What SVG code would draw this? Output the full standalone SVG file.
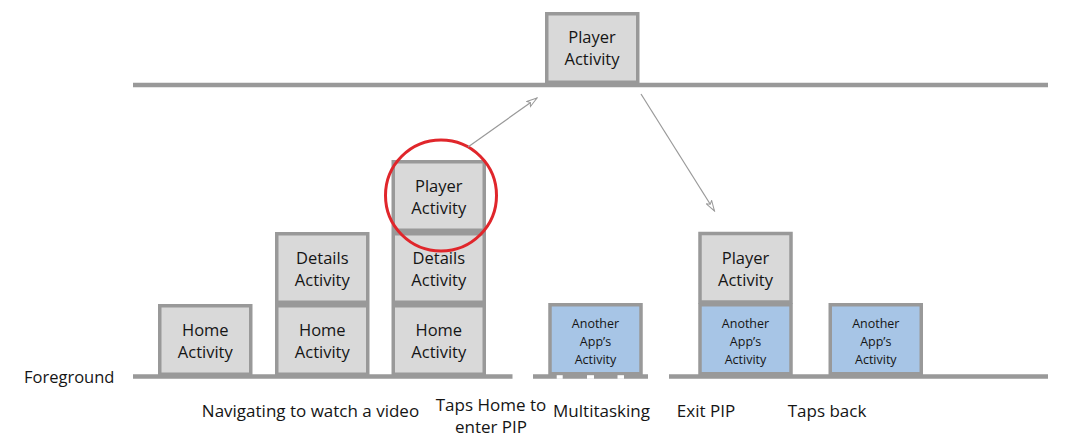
<svg xmlns="http://www.w3.org/2000/svg" width="1082" height="442" viewBox="0 0 1082 442">
<defs>
<style>
.box{fill:#d9d9d9;stroke:#999999;stroke-width:3.5}
.blue{fill:#a7c5e6;stroke:#999999;stroke-width:3.5}
.t{font-family:"Comic Sans MS","Chalkboard","Open Sans",sans-serif;font-size:16.5px;fill:#151515;text-anchor:middle}
.b{font-family:"Comic Sans MS","Chalkboard","Open Sans",sans-serif;font-size:17px;fill:#151515;text-anchor:middle}
.s{font-family:"Comic Sans MS","Chalkboard","Open Sans",sans-serif;font-size:12.5px;fill:#151515;text-anchor:middle}
.lab{font-family:"Comic Sans MS","Chalkboard","Open Sans",sans-serif;font-size:16.5px;fill:#151515}
.floor{stroke:#999999;stroke-width:4.5;fill:none}
.arr{stroke:#999999;stroke-width:1.2;fill:none;marker-end:url(#ah)}
</style>
<marker id="ah" viewBox="0 0 12 8" refX="11" refY="4" markerWidth="12" markerHeight="8" markerUnits="userSpaceOnUse" orient="auto">
<path d="M0.5,0.8 L11,4 L0.5,7.2 L3,4 Z" fill="#ffffff" stroke="#999999" stroke-width="1"/>
</marker>
</defs>
<rect width="1082" height="442" fill="#ffffff"/>

<g id="lines">
<line class="floor" x1="133" y1="85" x2="1048" y2="85"/>
<line class="floor" x1="133" y1="376.5" x2="512.5" y2="376.5"/>
<line class="floor" x1="533" y1="376.5" x2="648" y2="376.5"/>
<line class="floor" x1="669" y1="376.5" x2="1048" y2="376.5"/>
</g>

<g id="top-player">
<rect class="box" x="546.75" y="13.75" width="91" height="68.5"/>
<text class="t" x="592" y="43">Player</text>
<text class="t" x="592" y="65">Activity</text>
</g>

<g id="col1-home">
<rect class="box" x="159.75" y="305.75" width="91" height="68.5"/>
<text class="t" x="205.3" y="336">Home</text>
<text class="t" x="205.3" y="358">Activity</text>
</g>

<g id="col2-details">
<rect class="box" x="276.75" y="233.75" width="91" height="68.5"/>
<text class="t" x="322.3" y="264">Details</text>
<text class="t" x="322.3" y="286">Activity</text>
</g>
<g id="col2-home">
<rect class="box" x="276.75" y="305.75" width="91" height="68.5"/>
<text class="t" x="322.3" y="336">Home</text>
<text class="t" x="322.3" y="358">Activity</text>
</g>

<g id="col3-player">
<rect class="box" x="393.25" y="161.75" width="91" height="68.5"/>
<text class="t" x="438.8" y="192">Player</text>
<text class="t" x="438.8" y="214">Activity</text>
</g>
<g id="col3-details">
<rect class="box" x="393.25" y="233.75" width="91" height="68.5"/>
<text class="t" x="438.8" y="264">Details</text>
<text class="t" x="438.8" y="286">Activity</text>
</g>
<g id="col3-home">
<rect class="box" x="393.25" y="305.75" width="91" height="68.5"/>
<text class="t" x="438.8" y="336">Home</text>
<text class="t" x="438.8" y="358">Activity</text>
</g>

<g id="col4-another">
<rect class="blue" x="550" y="304.75" width="91" height="69"/>
<text class="s" x="595.5" y="328">Another</text>
<text class="s" x="595.5" y="346">App’s</text>
<text class="s" x="595.5" y="364">Activity</text>
</g>
<g id="gaps">
<rect x="556.7" y="375.2" width="6" height="3.6" fill="#ffffff"/>
<rect x="587" y="375.2" width="7" height="3.6" fill="#ffffff"/>
<rect x="617.5" y="375.2" width="6.5" height="3.6" fill="#ffffff"/>
</g>

<g id="col5-player">
<rect class="box" x="700" y="233.5" width="91" height="68.5"/>
<text class="t" x="745.5" y="264">Player</text>
<text class="t" x="745.5" y="286">Activity</text>
</g>
<g id="col5-another">
<rect class="blue" x="700" y="304.75" width="91" height="69"/>
<text class="s" x="745.5" y="328">Another</text>
<text class="s" x="745.5" y="346">App’s</text>
<text class="s" x="745.5" y="364">Activity</text>
</g>

<g id="col6-another">
<rect class="blue" x="830.25" y="304.75" width="91" height="69"/>
<text class="s" x="875.8" y="328">Another</text>
<text class="s" x="875.8" y="346">App’s</text>
<text class="s" x="875.8" y="364">Activity</text>
</g>

<g id="highlight">
<circle cx="441" cy="195.5" r="55.5" fill="none" stroke="#e0262b" stroke-width="3"/>
</g>

<g id="connectors">
<line class="arr" x1="468" y1="147" x2="537" y2="98"/>
<line class="arr" x1="641" y1="94" x2="714.5" y2="211"/>
</g>

<g id="labels">
<text class="lab" x="24" y="383">Foreground</text>
<text class="b" x="310.5" y="417">Navigating to watch a video</text>
<text class="b" x="491" y="410.5">Taps Home to</text>
<text class="b" x="491" y="433">enter PIP</text>
<text class="b" x="601.5" y="417">Multitasking</text>
<text class="b" x="706" y="417">Exit PIP</text>
<text class="b" x="827" y="417">Taps back</text>
</g>
</svg>
